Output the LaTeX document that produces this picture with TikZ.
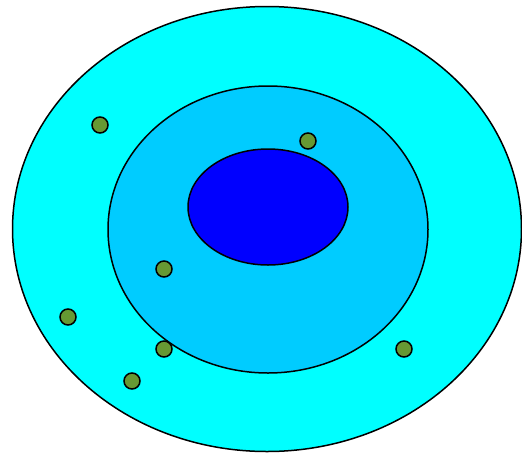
\documentclass[tikz,border=0pt]{standalone}
\usepackage{tikz}
\usepackage{xcolor}
\definecolor{outercyan}{HTML}{00FFFF}
\definecolor{midblue}{HTML}{00CCFF}
\definecolor{coreblue}{HTML}{0000FF}
\definecolor{dotgreen}{HTML}{669933}

\begin{document}
\begin{tikzpicture}[x=1pt,y=-1pt,
    dot/.style={circle,draw=black,fill=dotgreen,line width=1.5pt,
                minimum size=16pt,inner sep=0pt}]
  \useasboundingbox (0,0) rectangle (522,453);
  \filldraw[fill=outercyan,line width=1.5pt] (267,229) ellipse (254.5pt and 222.5pt);
  \filldraw[fill=midblue,line width=1.5pt]   (268,229.5) ellipse (160pt and 143.5pt);
  \filldraw[fill=coreblue,line width=1.5pt]  (268,207) ellipse (80pt and 58pt);

  \node[dot] (p1) at (100,125) {};
  \node[dot] (p2) at (308,141) {};
  \node[dot] (p3) at (164,269) {};
  \node[dot] (p4) at (68,317) {};
  \node[dot] (p5) at (164,349) {};
  \node[dot] (p6) at (132,381) {};
  \node[dot] (p7) at (404,349) {};
\end{tikzpicture}
\end{document}
